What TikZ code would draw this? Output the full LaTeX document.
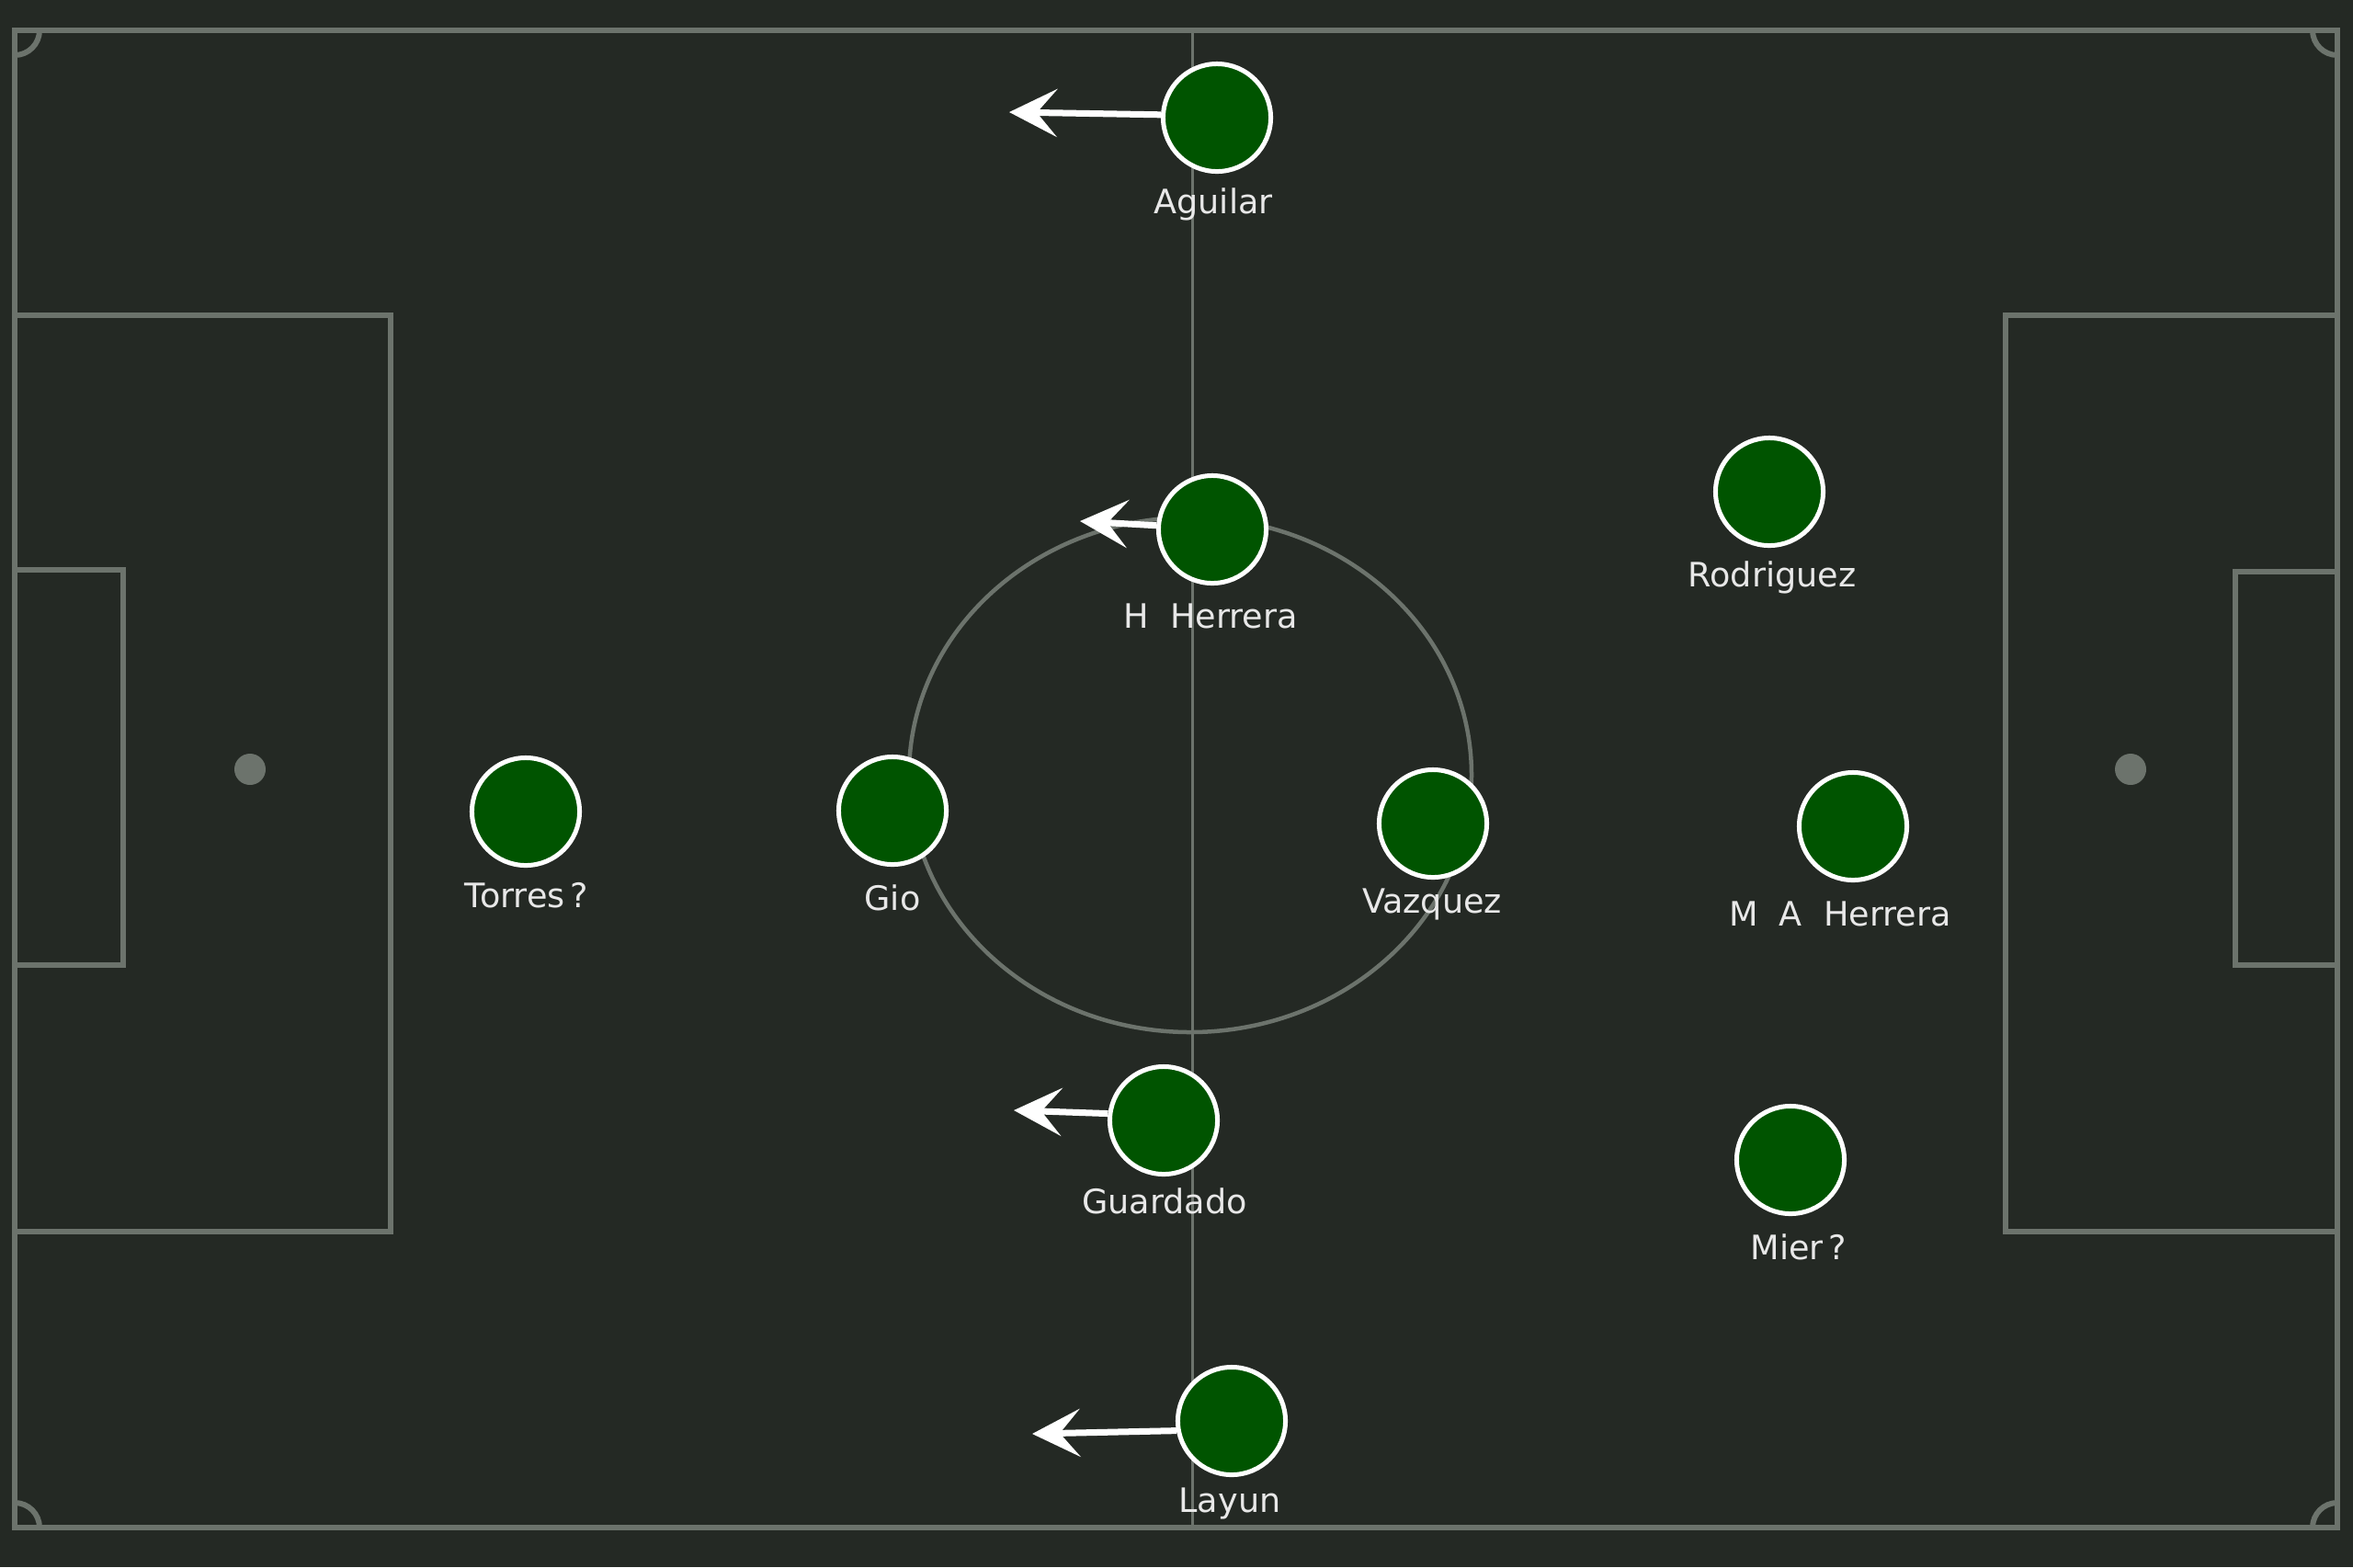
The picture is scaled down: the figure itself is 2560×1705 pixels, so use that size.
\documentclass[tikz,border=0pt]{standalone}
\usepackage{fontspec}
\setmainfont{DejaVu Sans}
\usetikzlibrary{arrows.meta}
\definecolor{bg}{RGB}{36,41,36}
\definecolor{pline}{RGB}{108,115,108}
\definecolor{pgreen}{RGB}{0,84,0}
\definecolor{ltext}{RGB}{232,232,232}
\begin{document}
\begin{tikzpicture}[x=0.01cm,y=-0.01cm,
  pitch/.style={draw=pline, line width=0.06cm},
  player/.style={circle, draw=white, fill=pgreen, line width=0.05cm, minimum size=1.17cm, inner sep=0pt},
  pname/.style={text=ltext, font=\fontsize{10.4pt}{12pt}\selectfont, anchor=base, inner sep=0pt},
  run/.style={draw=white, line width=0.07cm, -{Stealth[length=0.52cm, width=0.52cm, inset=0.22cm]}}
]
\fill[bg] (0,0) rectangle (2560,1705);
\useasboundingbox (0,0) rectangle (2560,1705);
% pitch
\draw[pitch] (16,33) rectangle (2543,1662);
\draw[pitch] (16,343) -- (425,343) -- (425,1340) -- (16,1340);
\draw[pitch] (16,620) -- (134,620) -- (134,1050) -- (16,1050);
\draw[pitch] (2543,343) -- (2182,343) -- (2182,1340) -- (2543,1340);
\draw[pitch] (2543,622) -- (2432,622) -- (2432,1050) -- (2543,1050);
\fill[pline] (272,837) circle[radius=17];
\fill[pline] (2318,837) circle[radius=17];
\draw[pline, line width=0.03cm] (1297,33) -- (1297,1662);
\draw[pline, line width=0.045cm] (1295,843) ellipse[x radius=306, y radius=280];
\draw[pitch] (43,33) arc[start angle=0, end angle=90, radius=27];
\draw[pitch] (2516,33) arc[start angle=180, end angle=90, radius=27];
\draw[pitch] (43,1662) arc[start angle=0, end angle=-90, radius=27];
\draw[pitch] (2516,1662) arc[start angle=180, end angle=270, radius=27];
% players
\node[player] (ag) at (1324,128) {};
\node[player] (hh) at (1319,576) {};
\node[player] (ro) at (1925,535) {};
\node[player] (to) at (572,883) {};
\node[player] (gi) at (971,882) {};
\node[player] (va) at (1559,896) {};
\node[player] (ma) at (2016,899) {};
\node[player] (gu) at (1266,1219) {};
\node[player] (mi) at (1948,1262) {};
\node[player] (la) at (1340,1546) {};
% names
\node[pname] (agL) at (1320,232) {Aguilar};
\node[pname] (hhL) at (1317,683) {H~~Herrera};
\node[pname] (roL) at (1928,638) {Rodriguez};
\node[pname] (toL) at (573,987) {Torres\,?};
\node[pname] (giL) at (971,990) {Gio};
\node[pname] (vaL) at (1558,993) {Vazquez};
\node[pname] (maL) at (2002,1007) {M~~A~~Herrera};
\node[pname] (guL) at (1267,1320) {Guardado};
\node[pname] (miL) at (1957,1370) {Mier\,?};
\node[pname] (laL) at (1338,1645) {Layun};
% runs
\coordinate (agT) at (1098,122);
\coordinate (hhT) at (1175,567);
\coordinate (guT) at (1103,1208);
\coordinate (laT) at (1123,1560);
\draw[run] (ag.177) -- (agT);
\draw[run] (hh.176) -- (hhT);
\draw[run] (gu.173) -- (guT);
\draw[run] (la.190) -- (laT);
\end{tikzpicture}
\end{document}
